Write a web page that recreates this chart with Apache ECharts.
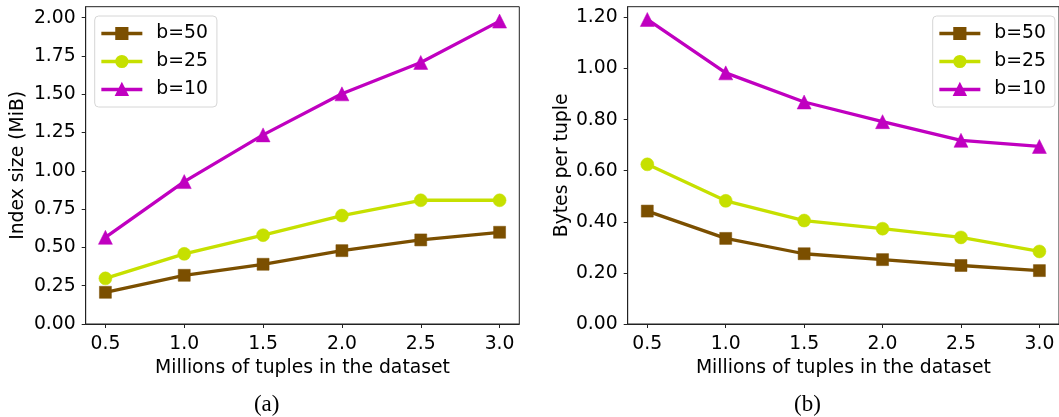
<!DOCTYPE html>
<html>
<head>
<meta charset="utf-8">
<script src="https://cdn.jsdelivr.net/npm/echarts@6/dist/echarts.min.js"></script>
<style>
html,body{margin:0;padding:0;background:#fff;}
#chart{width:1059px;height:417px;}
</style>
</head>
<body>
<div id="chart"></div>
<script>
const xValues = [0.5, 1.0, 1.5, 2.0, 2.5, 3.0];
const seriesNames = ['b=50', 'b=25', 'b=10'];
const sizeB50 = [0.207, 0.318, 0.39, 0.479, 0.549, 0.599];
const sizeB25 = [0.298, 0.458, 0.58, 0.708, 0.808, 0.808];
const sizeB10 = [0.566, 0.93, 1.235, 1.503, 1.708, 1.978];
const bytesB50 = [0.442, 0.335, 0.275, 0.252, 0.229, 0.209];
const bytesB25 = [0.625, 0.482, 0.405, 0.373, 0.339, 0.284];
const bytesB10 = [1.192, 0.983, 0.869, 0.792, 0.719, 0.695];
const xTicks = [0.5, 1.0, 1.5, 2.0, 2.5, 3.0];
const sizeTicks = [0, 0.25, 0.5, 0.75, 1.0, 1.25, 1.5, 1.75, 2.0];
const bytesTicks = [0, 0.2, 0.4, 0.6, 0.8, 1.0, 1.2];

const colors = ['#7b4f00', '#c6e000', '#c000c0'];
const symbols = ['rect', 'circle', 'triangle'];
const symbolSizes = [12, 13, 14];
const FONT = 'DejaVu Sans';
const FS = 18.8;
const TXT = '#000';

function pairs(ys) { return xValues.map((x, i) => [x, ys[i]]); }

function xAxisCfg(gi) {
  return {
    type: 'value', gridIndex: gi, min: 0.375, max: 3.125,
    name: 'Millions of tuples in the dataset', nameLocation: 'middle', nameGap: 33,
    nameTextStyle: {fontFamily: FONT, fontSize: FS, color: TXT},
    axisLine: {show: true, onZero: false, lineStyle: {color: '#222', width: 1}},
    axisTick: {show: true, length: 4, inside: false, customValues: xTicks, lineStyle: {color: '#222'}},
    axisLabel: {customValues: xTicks, formatter: v => v.toFixed(1), fontFamily: FONT, fontSize: FS, color: TXT, margin: 11},
    splitLine: {show: false}
  };
}
function yAxisCfg(gi, max, ticks, name, gap) {
  return {
    type: 'value', gridIndex: gi, min: 0, max: max,
    name: name, nameLocation: 'middle', nameGap: gap, nameRotate: 90,
    nameTextStyle: {fontFamily: FONT, fontSize: FS, color: TXT},
    axisLine: {show: true, lineStyle: {color: '#222', width: 1}},
    axisTick: {show: true, length: 4, customValues: ticks, lineStyle: {color: '#222'}},
    axisLabel: {customValues: ticks, formatter: v => v.toFixed(2), fontFamily: FONT, fontSize: FS, color: TXT, margin: 10},
    splitLine: {show: false}
  };
}
function mkSeries(name, data, k, gi) {
  return {
    name: name, type: 'line', xAxisIndex: gi, yAxisIndex: gi,
    data: pairs(data), symbol: symbols[k], symbolSize: symbolSizes[k],
    showAllSymbol: true,
    lineStyle: {color: colors[k], width: 3.3},
    itemStyle: {color: colors[k], borderColor: colors[k], borderWidth: 0.5},
    emphasis: {disabled: true}, animation: false, z: 2 + k
  };
}
function legendCfg(left) {
  return {
    orient: 'vertical', left: left, top: 16,
    data: seriesNames,
    itemWidth: 41, itemHeight: 14, itemGap: 9,
    padding: [8, 9, 8, 5],
    lineStyle: {width: 3.3},
    textStyle: {fontFamily: FONT, fontSize: FS, color: TXT, padding: [0, 0, 0, 9]},
    backgroundColor: 'rgba(255,255,255,0.85)', borderColor: '#d6d6d6', borderWidth: 1, borderRadius: 4,
    selectedMode: false
  };
}

const chart = echarts.init(document.getElementById('chart'), null, {renderer: 'canvas'});
chart.setOption({
  animation: false,
  grid: [
    {left: 85.7, top: 6.7, right: 539.7, bottom: 93, show: true, borderColor: '#222', borderWidth: 1, containLabel: false},
    {left: 627.7, top: 6.7, right: -3, bottom: 93, show: true, borderColor: '#222', borderWidth: 1, containLabel: false}
  ],
  xAxis: [xAxisCfg(0), xAxisCfg(1)],
  yAxis: [yAxisCfg(0, 2.072, sizeTicks, 'Index size (MiB)', 58), yAxisCfg(1, 1.242, bytesTicks, 'Bytes per tuple', 56)],
  legend: [legendCfg(94.7), legendCfg(932.7)],
  series: [
    mkSeries('b=50', sizeB50, 0, 0),
    mkSeries('b=25', sizeB25, 1, 0),
    mkSeries('b=10', sizeB10, 2, 0),
    mkSeries('b=50', bytesB50, 0, 1),
    mkSeries('b=25', bytesB25, 1, 1),
    mkSeries('b=10', bytesB10, 2, 1)
  ],
  graphic: [
    {type: 'text', x: 266.7, y: 405, style: {text: '(a)', fontFamily: 'Liberation Serif', fontSize: 23, fill: '#000', align: 'center', verticalAlign: 'middle'}},
    {type: 'text', x: 807.5, y: 405, style: {text: '(b)', fontFamily: 'Liberation Serif', fontSize: 23, fill: '#000', align: 'center', verticalAlign: 'middle'}}
  ]
});
</script>
</body>
</html>
